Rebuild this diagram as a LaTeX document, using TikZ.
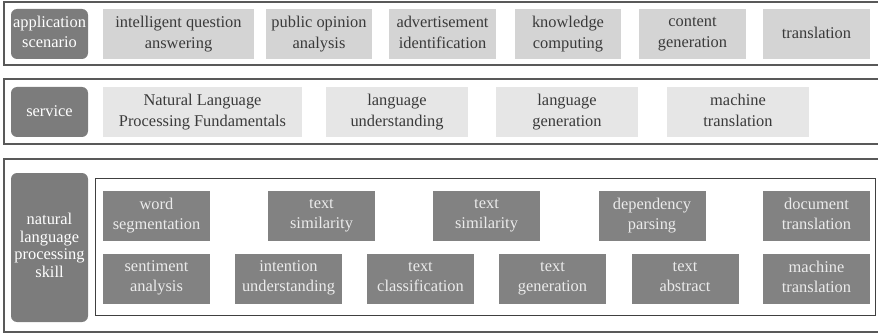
\documentclass[tikz,border=0pt]{standalone}
\usepackage{fontspec}
\setmainfont{Liberation Serif}
\usetikzlibrary{positioning}
\definecolor{tagfill}{HTML}{7C7C7C}
\definecolor{appfill}{HTML}{D4D4D4}
\definecolor{svcfill}{HTML}{E6E6E6}
\definecolor{skillfill}{HTML}{828282}
\definecolor{darktext}{HTML}{3A3A3A}
\newcommand{\linestrut}{\vrule height 0.75em depth 0.25em width 0pt}
\tikzset{
  even/.style={execute at begin node={\linestrut}, execute at end node={\linestrut}},
  panel/.style={draw=black!65, line width=1.2pt},
  tag/.style={even, fill=tagfill, rounded corners=6pt, align=center, text=white,
    minimum width=77pt, inner sep=0pt, font=\fontsize{16.4}{20}\selectfont},
  appbox/.style={even, fill=appfill, align=center, text=darktext, minimum height=50pt,
    inner sep=0pt, font=\fontsize{16.4}{21}\selectfont},
  svcbox/.style={even, fill=svcfill, align=center, text=darktext, minimum height=50pt,
    minimum width=142pt, inner sep=0pt, font=\fontsize{16.4}{21}\selectfont},
  skillbox/.style={even, fill=skillfill, align=center, text=white!92!black, minimum height=50pt,
    minimum width=107pt, inner sep=0pt, font=\fontsize{16.4}{20}\selectfont},
  frame/.style={draw=black!75, line width=0.8pt},
}

\begin{document}
\begin{tikzpicture}[x=1pt, y=-1pt]
\useasboundingbox (0,0) rectangle (878,334);
\clip (0,0) rectangle (878,334);

% Application scenario panel
\draw[panel] (4,2) rectangle (884,65);
\node[tag, minimum height=50pt] (apptag) at (49.5,34) {application\\scenario};
\node[appbox, minimum width=151pt] (qa) at (178.5,34) {intelligent question\\answering};
\node[appbox, minimum width=106pt] (opinion) at (319,34) {public opinion\\analysis};
\node[appbox, minimum width=107pt] (advert) at (442.5,34) {advertisement\\identification};
\node[appbox, minimum width=106pt] (knowledge) at (568,34) {knowledge\\computing};
\node[appbox, minimum width=107pt] (content) at (692.5,34) {content\\generation};
\node[appbox, minimum width=107pt] (trans) at (816.5,34) {translation};

% Service panel
\draw[panel] (4,79) rectangle (884,144);
\node[tag, minimum height=50pt] (svctag) at (49.5,112) {service};
\node[svcbox, minimum width=199pt] (fundamentals) at (202.5,112) {Natural Language\\Processing Fundamentals};
\node[svcbox] (understand) at (397,112) {language\\understanding};
\node[svcbox] (generate) at (567,112) {language\\generation};
\node[svcbox] (machine) at (738,112) {machine\\translation};

% Skill panel
\draw[panel] (4,159) rectangle (884,332);
\node[tag, minimum height=149pt, font=\fontsize{16.4}{17.5}\selectfont] (skilltag) at (49.5,247.5)
  {natural\\language\\processing\\skill};
\draw[frame] (95,178) rectangle (875,315);

\node[skillbox] (segment) at (156.5,216) {word\\segmentation};
\node[skillbox] (similar) at (321.5,216) {text\\similarity};
\node[skillbox] (similartwo) at (486.5,216) {text\\similarity};
\node[skillbox] (depend) at (652,216) {dependency\\parsing};
\node[skillbox] (document) at (816.5,216) {document\\translation};

\node[skillbox] (sentiment) at (156.5,278.5) {sentiment\\analysis};
\node[skillbox] (intention) at (288.5,278.5) {intention\\understanding};
\node[skillbox] (classify) at (420.5,278.5) {text\\classification};
\node[skillbox] (textgen) at (552.5,278.5) {text\\generation};
\node[skillbox] (abstract) at (685,278.5) {text\\abstract};
\node[skillbox] (machinetwo) at (816.5,278.5) {machine\\translation};

\end{tikzpicture}
\end{document}
